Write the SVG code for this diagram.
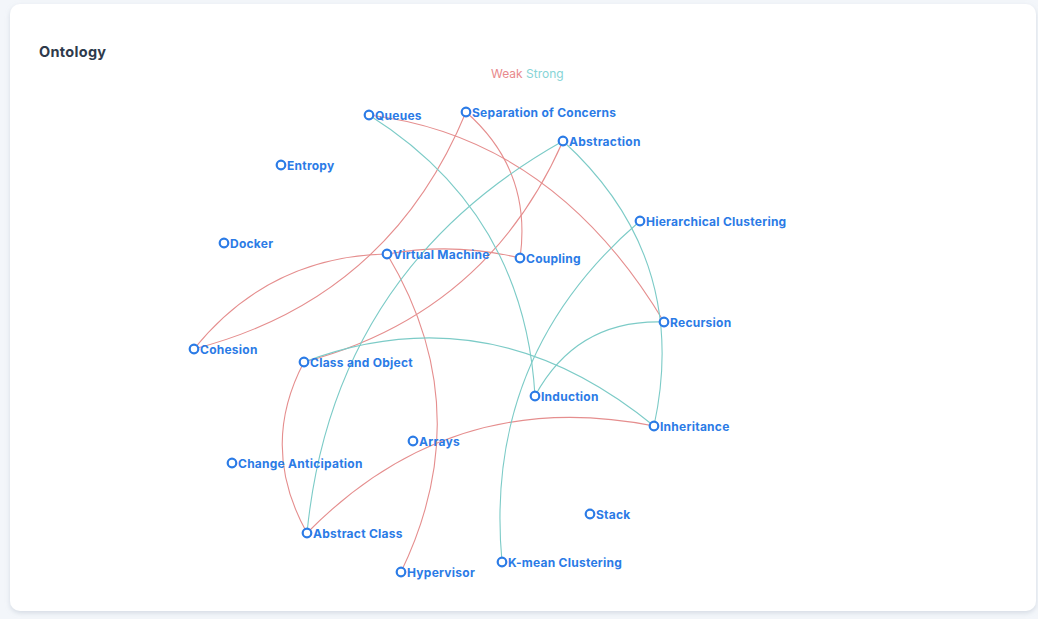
<svg xmlns="http://www.w3.org/2000/svg" width="1038" height="619" viewBox="0 0 1038 619">
  <defs>
    <filter id="cardShadow" x="-5%" y="-5%" width="110%" height="115%">
      <feDropShadow dx="0" dy="2" stdDeviation="2.5" flood-color="#9aa7b8" flood-opacity="0.35"/>
    </filter>
    <style>
      .title { font-family: Inter, "Noto Sans", sans-serif; font-weight: 700; font-size: 14.5px; letter-spacing: 0.3px; fill: #2e3a4b; }
      .legend { font-family: Inter, "Noto Sans", sans-serif; font-size: 12px; }
      .node circle { fill: #ffffff; stroke: #2b7be6; stroke-width: 2.2; }
      .node text { font-family: Inter, "Noto Sans", sans-serif; font-weight: 700; font-size: 12px; letter-spacing: 0.25px; fill: #2b7be6; }
      .edge { fill: none; stroke-width: 1.1; }
      .weak { stroke: #e58e8e; }
      .strong { stroke: #7ccbc7; }
    </style>
  </defs>

  <!-- page background and card -->
  <rect x="0" y="0" width="1038" height="619" fill="#f3f6fa"/>
  <rect x="10" y="4" width="1026" height="607" rx="10" fill="#ffffff" filter="url(#cardShadow)"/>

  <text class="title" x="39" y="57">Ontology</text>

  <!-- legend -->
  <text class="legend" x="491" y="78"><tspan fill="#e8898c">Weak</tspan> <tspan fill="#86d4d6">Strong</tspan></text>

  <!-- connectors -->
  <g id="edges">
    <path class="edge weak" d="M369,115 Q553.5,137.5 664,322"/>
    <path class="edge weak" d="M466,112 Q389,298.5 194,349"/>
    <path class="edge weak" d="M387,254 Q268.4,256.6 194,349"/>
    <path class="edge weak" d="M466,112 Q532.4,170.4 520,258"/>
    <path class="edge weak" d="M387,254 Q453.5,242 520,258"/>
    <path class="edge weak" d="M387,254 Q480,409 401,572"/>
    <path class="edge weak" d="M563,141 Q486.7,313.9 304,362"/>
    <path class="edge weak" d="M304,362 Q259,447 307,533"/>
    <path class="edge weak" d="M307,533 Q451.6,385.8 654,426"/>

    <path class="edge strong" d="M369,115 Q524.3,212.7 535,396"/>
    <path class="edge strong" d="M563,141 Q333,270.3 307,533"/>
    <path class="edge strong" d="M563,141 Q690.5,257.4 654,426"/>
    <path class="edge strong" d="M640,221 Q483,355.9 502,562"/>
    <path class="edge strong" d="M664,322 Q576.6,319.1 535,396"/>
    <path class="edge strong" d="M304,362 Q490,291.7 654,426"/>
  </g>

  <!-- nodes -->
  <g id="node-queues" class="node"><circle cx="369" cy="115" r="4.3"/><text x="375" y="119.5">Queues</text></g>
  <g id="node-separation-of-concerns" class="node"><circle cx="466" cy="112" r="4.3"/><text x="472" y="116.5">Separation of Concerns</text></g>
  <g id="node-abstraction" class="node"><circle cx="563" cy="141" r="4.3"/><text x="569" y="145.5">Abstraction</text></g>
  <g id="node-entropy" class="node"><circle cx="281" cy="165" r="4.3"/><text x="287" y="169.5">Entropy</text></g>
  <g id="node-hierarchical-clustering" class="node"><circle cx="640" cy="221" r="4.3"/><text x="646" y="225.5">Hierarchical Clustering</text></g>
  <g id="node-docker" class="node"><circle cx="224" cy="243" r="4.3"/><text x="230" y="247.5">Docker</text></g>
  <g id="node-virtual-machine" class="node"><circle cx="387" cy="254" r="4.3"/><text x="393" y="258.5">Virtual Machine</text></g>
  <g id="node-coupling" class="node"><circle cx="520" cy="258" r="4.3"/><text x="526" y="262.5">Coupling</text></g>
  <g id="node-recursion" class="node"><circle cx="664" cy="322" r="4.3"/><text x="670" y="326.5">Recursion</text></g>
  <g id="node-cohesion" class="node"><circle cx="194" cy="349" r="4.3"/><text x="200" y="353.5">Cohesion</text></g>
  <g id="node-class-and-object" class="node"><circle cx="304" cy="362" r="4.3"/><text x="310" y="366.5">Class and Object</text></g>
  <g id="node-induction" class="node"><circle cx="535" cy="396" r="4.3"/><text x="541" y="400.5">Induction</text></g>
  <g id="node-inheritance" class="node"><circle cx="654" cy="426" r="4.3"/><text x="660" y="430.5">Inheritance</text></g>
  <g id="node-arrays" class="node"><circle cx="413" cy="441" r="4.3"/><text x="419" y="445.5">Arrays</text></g>
  <g id="node-change-anticipation" class="node"><circle cx="232" cy="463" r="4.3"/><text x="238" y="467.5">Change Anticipation</text></g>
  <g id="node-stack" class="node"><circle cx="590" cy="514" r="4.3"/><text x="596" y="518.5">Stack</text></g>
  <g id="node-abstract-class" class="node"><circle cx="307" cy="533" r="4.3"/><text x="313" y="537.5">Abstract Class</text></g>
  <g id="node-hypervisor" class="node"><circle cx="401" cy="572" r="4.3"/><text x="407" y="576.5">Hypervisor</text></g>
  <g id="node-k-mean-clustering" class="node"><circle cx="502" cy="562" r="4.3"/><text x="508" y="566.5">K-mean Clustering</text></g>
</svg>
